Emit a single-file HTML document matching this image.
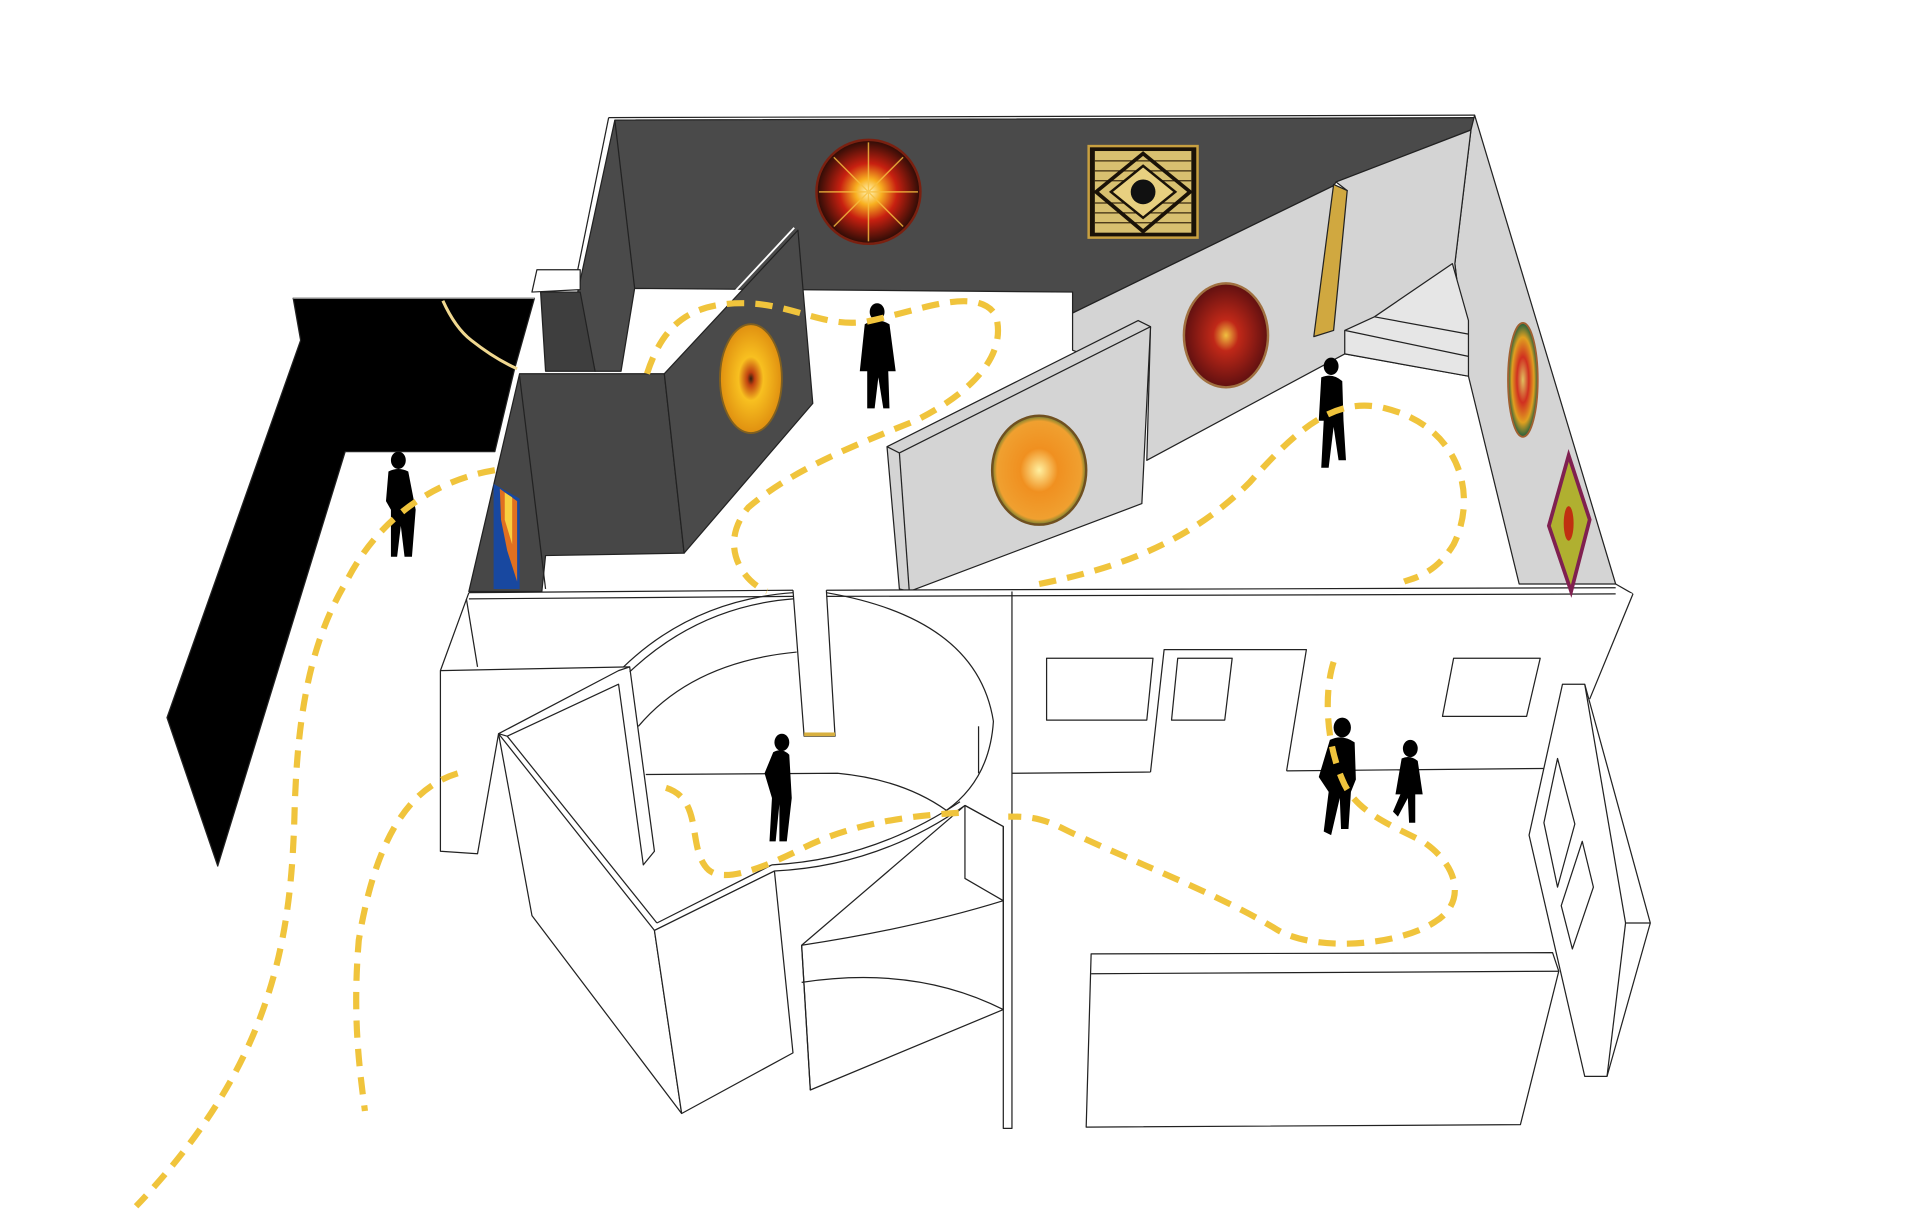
<!DOCTYPE html>
<html><head><meta charset="utf-8"><style>html,body{margin:0;padding:0;background:#fff}svg{display:block}</style></head>
<body>
<svg width="1920" height="1220" viewBox="0 0 1552 986" xmlns="http://www.w3.org/2000/svg">
<defs>
<radialGradient id="g1"><stop offset="0" stop-color="#fff8c0"/><stop offset=".25" stop-color="#f8b020"/><stop offset=".55" stop-color="#c82010"/><stop offset="1" stop-color="#2a0c06"/></radialGradient>
<radialGradient id="g2"><stop offset="0" stop-color="#302010"/><stop offset=".12" stop-color="#c04010"/><stop offset=".4" stop-color="#f8c020"/><stop offset="1" stop-color="#e09010"/></radialGradient>
<radialGradient id="g3"><stop offset="0" stop-color="#f0c040"/><stop offset=".3" stop-color="#c02818"/><stop offset="1" stop-color="#601010"/></radialGradient>
<radialGradient id="g4"><stop offset="0" stop-color="#fff0a0"/><stop offset=".4" stop-color="#f09020"/><stop offset=".9" stop-color="#f0a030"/><stop offset="1" stop-color="#708030"/></radialGradient>
<radialGradient id="g5"><stop offset="0" stop-color="#e0c060"/><stop offset=".4" stop-color="#d03020"/><stop offset=".75" stop-color="#e0a020"/><stop offset="1" stop-color="#206040"/></radialGradient>
</defs>
<g stroke="#222" stroke-width="1" stroke-linejoin="round">
<!-- black corridor -->
<polygon points="237,241 432,241 416,298 400,365 279,365 176,700 135,580 243,275" fill="#000"/>
<polyline points="237,241 432,241" fill="none" stroke="#999"/>
<path d="M358,243 Q368,265 381,275 Q400,290 418,298" fill="none" stroke="#f0d890" stroke-width="2.5"/>
<!-- back dark wall -->
<polygon points="497,97 1192,95 1189,105 1080,147 1078,150 867,253 867,236 513,233 502,300 481,300 467,236" fill="#4a4a4a"/>
<polyline points="492,95 1192,93" fill="none"/>
<polyline points="492,95 467,218" fill="none"/>
<polyline points="497,97 513,233" fill="none"/>
<!-- small block -->
<polygon points="434,218 469,218 469,234 430,236" fill="#fff"/>
<polygon points="437,236 469,236 481,300 441,300" fill="#3e3e3e"/>
<!-- right wall face and back partition -->
<polygon points="1189,105 1192,93 1306,472 1228,472 1187,304 1176,213" fill="#d4d4d4"/>
<polygon points="867,253 1078,150 1089,154 1080,147 1189,105 1176,213 1187,304 1087,286 927,372 930,264 880,288 867,283" fill="#d4d4d4"/>
<polygon points="1087,267 1111,256 1174,213 1187,259 1187,304 1087,286" fill="#e6e6e6"/>
<polyline points="1111,256 1187,270" fill="none"/>
<polyline points="1087,267 1187,288" fill="none"/>
<polygon points="1078,149 1089,154 1078,267 1062,272" fill="#d0a840"/>
<polyline points="1306,472 1320,480" fill="none"/>
<!-- front partition -->
<polygon points="717,361 920,259 930,264 923,407 735,478 727,476" fill="#d4d4d4"/>
<polyline points="717,361 727,366 930,264" fill="none"/>
<polyline points="727,366 735,478" fill="none"/>
<!-- dark partitions -->
<polygon points="420,302 537,302 553,447 441,449 438,478 379,478" fill="#474747"/>
<polyline points="420,304 441,476" fill="none"/>
<polygon points="537,302 645,186 657,326 553,447" fill="#4a4a4a"/>
<polyline points="534,300 642,184" fill="none" stroke="#fff" stroke-width="1.5"/>
<!-- front white structure -->
<polygon points="379,479 641,477 650,595 675,595 668,477 1306,475 1320,480 1285,565 1263,553 1236,675 1281,870 1299,870 1334,746 1281,553 1285,565 1229,909 878,911 882,771 818,771 818,912 811,912 811,816 655,881 641,851 551,900 430,740 403,593 386,690 356,688 356,542" fill="#fff" stroke="none"/>
<polyline points="403,593 386,690 356,688 356,542 379,479" fill="none"/>
<polyline points="1320,480 1285,565" fill="none"/>
<polyline points="377,484 386,539" fill="none"/>
<polyline points="379,479 641,477" fill="none"/>
<polyline points="668,477 1306,475" fill="none"/>
<polyline points="379,484 641,482" fill="none"/>
<polyline points="668,482 1306,480" fill="none"/>
<polyline points="356,542 509,539" fill="none"/>
<polyline points="641,477 650,595 675,595 668,477" fill="none"/>
<rect x="650" y="592" width="25" height="3" fill="#d8b040" stroke="none"/>
<polygon points="403,593 500,542 509,539 529,688 520,699 500,553 410,595" fill="#fff"/>
<polyline points="403,593 529,752 551,900" fill="none"/>
<polyline points="410,595 531,746" fill="none"/>
<polyline points="403,593 430,740 551,900" fill="none"/>
<polyline points="529,752 626,704" fill="none"/>
<polyline points="531,746 624,699" fill="none"/>
<path d="M626,704 Q710,700 780,651" fill="none"/>
<path d="M624,699 Q705,695 776,648" fill="none"/>
<polygon points="626,704 641,851 551,900 529,752" fill="#fff"/>
<path d="M504,539 Q560,485 641,479" fill="none"/>
<path d="M509,543 Q565,490 641,484" fill="none"/>
<path d="M516,587 Q560,535 644,527" fill="none"/>
<path d="M668,479 Q790,500 803,583 Q800,630 765,655" fill="none"/>
<polyline points="791,587 791,625" fill="none"/>
<path d="M522,626 L677,625 Q730,630 765,655" fill="none"/>
<polygon points="780,651 811,668 811,816 655,881 648,764 Q 750,755 780,710" fill="#fff"/>
<path d="M648,764 Q740,750 811,728" fill="none"/>
<path d="M648,794 Q740,780 811,816" fill="none"/>
<polyline points="648,764 655,881" fill="none"/>
<polyline points="780,651 780,710 811,728" fill="none"/>
<polyline points="780,651 811,668 811,912 818,912 818,478" fill="none"/>
<polyline points="818,625 930,624" fill="none"/>
<polyline points="1040,623 1260,621" fill="none"/>
<polyline points="930,624 941,525 1056,525 1040,623" fill="none"/>
<polygon points="846,532 932,532 927,582 846,582" fill="#fff"/>
<polygon points="952,532 996,532 990,582 947,582" fill="#fff"/>
<polygon points="1175,532 1245,532 1234,579 1166,579" fill="#fff"/>
<polygon points="882,771 1255,770 1260,785 1229,909 878,911" fill="#fff"/>
<polyline points="882,787 1260,785" fill="none"/>
<polygon points="1263,553 1281,553 1334,746 1299,870 1281,870 1236,675" fill="#fff"/>
<polyline points="1281,553 1314,746 1334,746" fill="none"/>
<polyline points="1314,746 1299,870" fill="none"/>
<polygon points="1259,613 1273,666 1259,717 1248,665" fill="#fff"/>
<polygon points="1279,680 1288,717 1271,767 1262,732" fill="#fff"/>
</g>
<!-- artworks -->
<circle cx="702" cy="155" r="42" fill="url(#g1)" stroke="#7a2010" stroke-width="2"/>
<g stroke="#f8c040" stroke-width="1.2" opacity=".8">
<line x1="702" y1="115" x2="702" y2="195"/><line x1="662" y1="155" x2="742" y2="155"/>
<line x1="674" y1="127" x2="730" y2="183"/><line x1="730" y1="127" x2="674" y2="183"/>
</g>
<rect x="880" y="118" width="88" height="74" fill="#1a1208" stroke="#c8a040" stroke-width="2"/>
<rect x="885" y="122" width="78" height="66" fill="#d8c070"/>
<g stroke="#3a2a10" stroke-width="1">
<line x1="885" y1="130" x2="963" y2="130"/><line x1="885" y1="138" x2="963" y2="138"/><line x1="885" y1="146" x2="963" y2="146"/><line x1="885" y1="164" x2="963" y2="164"/><line x1="885" y1="172" x2="963" y2="172"/><line x1="885" y1="180" x2="963" y2="180"/>
</g>
<polygon points="924,124 962,155 924,187 886,155" fill="none" stroke="#1a1208" stroke-width="3"/>
<polygon points="924,134 950,155 924,176 898,155" fill="#e8d080" stroke="#1a1208" stroke-width="2"/>
<circle cx="924" cy="155" r="10" fill="#111"/>
<ellipse cx="607" cy="306" rx="25" ry="44" fill="url(#g2)" stroke="#806020" stroke-width="1.5"/>
<ellipse cx="991" cy="271" rx="34" ry="42" fill="url(#g3)" stroke="#a07040" stroke-width="2"/>
<ellipse cx="840" cy="380" rx="38" ry="44" fill="url(#g4)" stroke="#705020" stroke-width="2"/>
<ellipse cx="1231" cy="307" rx="12" ry="46" fill="url(#g5)" stroke="#a06030" stroke-width="1.5"/>
<polygon points="1268,368 1285,420 1270,478 1252,425" fill="#b0b030" stroke="#802050" stroke-width="3"/>
<ellipse cx="1268" cy="423" rx="4" ry="14" fill="#c03010"/>
<polygon points="399,391 420,403 420,476 399,476" fill="#1848a0"/>
<polygon points="404,395 418,405 418,470 410,445 405,420" fill="#e07020"/>
<polygon points="408,398 414,402 414,440 408,420" fill="#f8d040"/>
<!-- people -->
<g fill="#000">
<ellipse cx="709" cy="252" rx="6" ry="7"/><path d="M699,262 Q709,256 719,262 L724,300 L718,300 L719,330 L714,330 L710,305 L707,330 L701,330 L701,300 L695,300 Z"/>
<ellipse cx="1076" cy="296" rx="6" ry="7"/><path d="M1068,305 Q1077,301 1085,308 L1086,340 L1088,372 L1082,372 L1078,345 L1074,378 L1068,378 L1070,340 L1066,340 Z"/>
<ellipse cx="322" cy="372" rx="6" ry="7"/><path d="M314,381 Q322,377 330,381 L336,412 L333,450 L327,450 L324,425 L321,450 L316,450 L316,412 L312,405 Z"/>
<ellipse cx="632" cy="600" rx="6" ry="7"/><path d="M625,608 Q632,604 638,610 L640,645 L636,680 L630,680 L630,650 L627,680 L622,680 L624,645 L618,625 Z"/>
<ellipse cx="1085" cy="588" rx="7" ry="8"/><path d="M1075,598 Q1085,593 1095,600 L1096,630 L1092,640 L1090,670 L1084,670 L1083,645 L1076,675 L1070,672 L1074,640 L1066,628 Z"/>
<ellipse cx="1140" cy="605" rx="6" ry="7"/><path d="M1133,613 Q1140,610 1146,615 L1150,642 L1144,642 L1144,665 L1139,665 L1138,645 L1130,660 L1126,656 L1132,642 L1128,642 Z"/>
</g>
<!-- dashed paths -->
<g fill="none" stroke="#f0c43c" stroke-width="5" stroke-dasharray="14 9" stroke-linecap="butt">
<path d="M400,380 C340,390 300,430 280,470 C250,520 240,580 238,660 C235,760 220,860 110,975"/>
<path d="M370,625 C320,640 300,700 290,760 C285,820 290,860 295,898"/>
<path d="M523,302 C535,265 555,245 600,245 C640,245 665,265 700,260 C740,252 790,230 805,255 C815,290 780,320 740,340 C690,360 640,380 605,410 C580,440 600,470 620,478"/>
<path d="M840,472 C900,460 960,440 1010,390 C1050,345 1080,320 1120,330 C1180,345 1195,400 1175,440 C1160,465 1140,468 1135,470"/>
<path d="M1078,535 C1070,560 1072,600 1085,630 C1095,655 1120,665 1150,680 C1180,700 1185,730 1160,745 C1130,765 1060,770 1030,750 C980,720 900,690 860,670 C840,660 830,660 815,660"/>
<path d="M775,657 C720,660 680,670 650,685 C610,705 580,715 570,700 C555,680 570,640 530,635"/>
</g>
</svg>
</body></html>
